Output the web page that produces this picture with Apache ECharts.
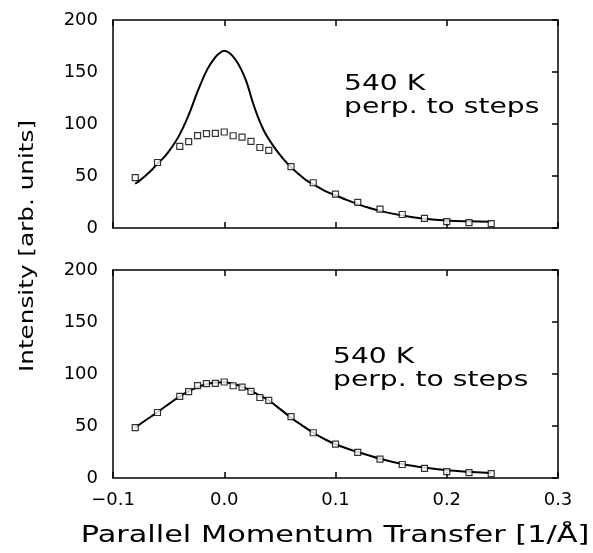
<!DOCTYPE html>
<html><head><meta charset="utf-8">
<script src="https://cdn.jsdelivr.net/npm/echarts@6/dist/echarts.min.js"></script>
<style>html,body{margin:0;padding:0;background:#fff}#c{width:593px;height:553px}</style>
</head><body><div id="c"></div>
<script>
// Measured data points (same in both panels)
const dataX = [-0.08,-0.06,-0.04,-0.032,-0.024,-0.016,-0.008,0,0.008,0.016,0.024,0.032,0.04,0.06,0.08,0.1,0.12,0.14,0.16,0.18,0.2,0.22,0.24];
const dataY = [48.5,63,78.5,83,88.8,90.7,91,92.3,88.7,87.3,83.2,77.4,74.7,59,43.5,32.5,24.7,18.2,13,9.3,6.2,5.2,4.2];
// Top panel fit curve
const topFitX = [-0.08,-0.075,-0.07,-0.065,-0.06,-0.055,-0.05,-0.045,-0.04,-0.035,-0.03,-0.025,-0.02,-0.015,-0.01,-0.005,0,0.005,0.01,0.015,0.02,0.025,0.03,0.035,0.04,0.045,0.05,0.055,0.06,0.065,0.07,0.075,0.08,0.09,0.1,0.11,0.12,0.13,0.14,0.16,0.18,0.2,0.22,0.24];
const topFitY = [42.5,46.5,51,56,62,67,73.5,81,90,101,114,128.5,141.5,153,161.5,167.5,170.5,168,162,153,140.5,123,107.5,95,85.5,77.5,70.5,64,58.5,53.5,49,45,42,36,31.5,27,23,19.5,16.5,12,9,7.2,6.4,6];
// Bottom panel fit curve
const botFitX = [-0.08,-0.07,-0.06,-0.05,-0.04,-0.03,-0.02,-0.01,0,0.01,0.02,0.03,0.04,0.05,0.06,0.07,0.08,0.09,0.1,0.12,0.14,0.16,0.18,0.2,0.22,0.24];
const botFitY = [48.7,56,63.3,71,78.5,84.5,89,91.5,92,90,86,80.5,74.5,66.5,58,50.5,43.5,37.5,32.5,25,18.5,13.5,10,7.5,6,4.8];
const xTicks = ['\u22120.1','0.0','0.1','0.2','0.3'];
const yTicks = ['0','50','100','150','200'];
const annoLines = ['540 K','perp. to steps'];
const xTitle = 'Parallel Momentum Transfer [1/\u00c5]';
const yTitle = 'Intensity [arb. units]';

const FONT = 'DejaVu Sans';
const chart = echarts.init(document.getElementById('c'), null, {renderer:'canvas'});
const pair = (xs, ys) => xs.map((x,i)=>[x, ys[i]]);
const lineStyle = {color:'#000', width:1.5};

function xAx(grid, pos, labels){
  return {type:'value', gridIndex:grid, position:pos, min:-0.1, max:0.3, interval:0.1,
    axisLine:{show:true, onZero:false, lineStyle},
    axisTick:{show:true, inside:true, length:6, lineStyle},
    splitLine:{show:false},
    axisLabel:{show:labels, fontFamily:FONT, fontSize:18, color:'#000', margin:13,
      formatter:(v)=>xTicks[Math.round((v+0.1)/0.1)]}
  };
}
function yAx(grid, pos, labels, ticks){
  return {type:'value', gridIndex:grid, position:pos, min:0, max:200, interval:50,
    axisLine:{show:true, onZero:false, lineStyle},
    axisTick:{show:ticks, inside:true, length:6, lineStyle},
    splitLine:{show:false},
    axisLabel:{show:labels, fontFamily:FONT, fontSize:18, color:'#000', margin:15,
      formatter:(v)=>yTicks[Math.round(v/50)]}
  };
}
const scatterStyle = {color:'#fff', borderColor:'#000', borderWidth:1.2};
const fitLine = {color:'#000', width:2};
const annoStyle = {text:annoLines.join('\n'), fontFamily:FONT, fontSize:22, lineHeight:23, fill:'#000', textVerticalAlign:'top'};
chart.setOption({
  animation:false,
  backgroundColor:'#fff',
  grid:[
    {left:113, top:20, width:445, height:208},
    {left:113, top:270, width:445, height:208}
  ],
  xAxis:[xAx(0,'bottom',false), xAx(0,'top',false), xAx(1,'bottom',true), xAx(1,'top',false)],
  yAxis:[yAx(0,'left',true,false), yAx(0,'right',false,true), yAx(1,'left',true,false), yAx(1,'right',false,true)],
  series:[
    {type:'line', xAxisIndex:0, yAxisIndex:0, data:pair(topFitX, topFitY), smooth:0.4, showSymbol:false, lineStyle:fitLine, z:2},
    {type:'scatter', xAxisIndex:0, yAxisIndex:0, data:pair(dataX, dataY), symbol:'rect', symbolSize:6, itemStyle:scatterStyle, z:3},
    {type:'line', xAxisIndex:2, yAxisIndex:2, data:pair(botFitX, botFitY), smooth:0.4, showSymbol:false, lineStyle:fitLine, z:2},
    {type:'scatter', xAxisIndex:2, yAxisIndex:2, data:pair(dataX, dataY), symbol:'rect', symbolSize:6, itemStyle:scatterStyle, z:3}
  ],
  graphic:[
    {type:'text', x:344, y:73, scaleX:1.28, style:annoStyle},
    {type:'text', x:333, y:346, scaleX:1.28, style:annoStyle},
    {type:'text', x:335, y:536, scaleX:1.32, style:{text:xTitle, fontFamily:FONT, fontSize:23, fill:'#000', textAlign:'center', textVerticalAlign:'middle'}},
    {type:'text', x:28, y:246, rotation:Math.PI/2, scaleX:1.3, style:{text:yTitle, fontFamily:FONT, fontSize:19, fill:'#000', textAlign:'center', textVerticalAlign:'middle'}}
  ]
});
</script></body></html>
